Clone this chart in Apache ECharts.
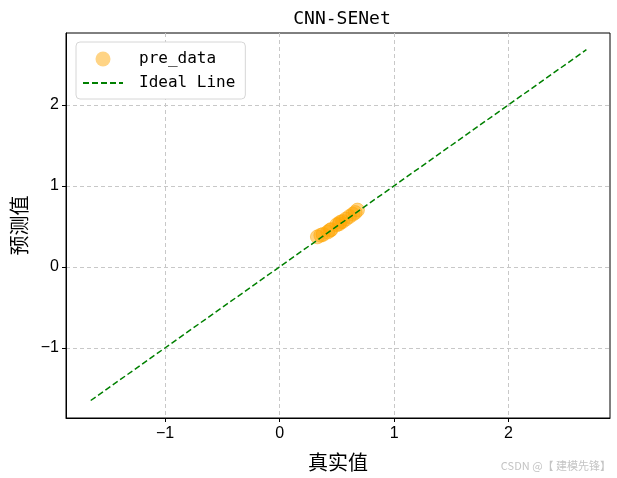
<!DOCTYPE html>
<html>
<head>
<meta charset="utf-8">
<script src="https://cdn.jsdelivr.net/npm/echarts@6/dist/echarts.min.js"></script>
<style>
    html, body { margin: 0; padding: 0; background: #fff; }
    #chart_div { width: 617px; height: 478px; }
</style>
</head>
<body>
<div id="chart_div"></div>
<script>
    // scatter values (true vs predicted)
    const realValues = [0.33, 0.36, 0.38, 0.42, 0.44, 0.45, 0.50, 0.52, 0.53, 0.55, 0.58, 0.61, 0.64, 0.66, 0.68];
    const predValues = [0.37, 0.39, 0.40, 0.43, 0.45, 0.46, 0.52, 0.53, 0.55, 0.56, 0.59, 0.62, 0.65, 0.67, 0.70];
    // ideal line end points
    const idealLine = [-1.65, 2.68];
    const xTicks = [-1, 0, 1, 2];
    const yTicks = [-1, 0, 1, 2];
    const axisMin = -1.866;
    const axisMax = 2.886;

    const fmt = (v) => String(v).replace('-', '\u2212');

    const chart = echarts.init(document.getElementById('chart_div'));

    const option = {
        animation: false,
        title: {
            text: 'CNN-SENet',
            left: 337,
            textAlign: 'center',
            top: 5,
            textStyle: {
                fontFamily: 'DejaVu Sans Mono',
                fontSize: 18,
                fontWeight: 'normal',
                color: '#000'
            }
        },
        legend: {
            orient: 'vertical',
            left: 76,
            top: 42,
            padding: [9, 10, 8, 6],
            itemGap: 8,
            itemWidth: 40,
            itemHeight: 15,
            backgroundColor: '#fff',
            borderColor: '#d6d6d6',
            borderWidth: 1,
            borderRadius: 4,
            textStyle: {
                fontFamily: 'DejaVu Sans Mono',
                fontSize: 16,
                color: '#000',
                padding: [0, 0, 0, 11]
            },
            data: [
                { name: 'pre_data', icon: 'circle', itemStyle: { color: 'rgba(255,165,0,0.6)', borderWidth: 0 } },
                { name: 'Ideal Line', itemStyle: { opacity: 0 } }
            ]
        },
        grid: {
            left: 66,
            right: 7,
            top: 33,
            bottom: 60,
            show: true,
            borderColor: '#000',
            borderWidth: 1
        },
        xAxis: {
            type: 'value',
            min: axisMin,
            max: axisMax,
            name: '真实值',
            nameLocation: 'middle',
            nameGap: 34,
            nameTextStyle: { fontFamily: 'Noto Sans CJK SC', fontSize: 20, color: '#000' },
            axisLine: { onZero: false, lineStyle: { color: '#000' } },
            axisTick: { customValues: xTicks, length: 4, lineStyle: { color: '#000' } },
            axisLabel: {
                customValues: xTicks,
                formatter: fmt,
                fontFamily: 'Liberation Sans',
                fontSize: 16,
                color: '#000',
                margin: 8
            },
            splitLine: { show: true, lineStyle: { color: '#c8c8c8', type: [4, 3] } }
        },
        yAxis: {
            type: 'value',
            min: axisMin,
            max: axisMax,
            name: '预测值',
            nameLocation: 'middle',
            nameGap: 36,
            nameTextStyle: { fontFamily: 'Noto Sans CJK SC', fontSize: 20, color: '#000' },
            axisLine: { show: true, onZero: false, lineStyle: { color: '#000' } },
            axisTick: { show: true, customValues: yTicks, length: 4, lineStyle: { color: '#000' } },
            axisLabel: {
                customValues: yTicks,
                formatter: fmt,
                fontFamily: 'Liberation Sans',
                fontSize: 16,
                color: '#000',
                margin: 7
            },
            splitLine: { show: true, lineStyle: { color: '#c8c8c8', type: [4, 3] } }
        },
        series: [
            {
                name: 'pre_data',
                type: 'scatter',
                symbolSize: 14,
                itemStyle: { color: 'rgba(255,165,0,0.6)', borderColor: 'rgba(255,165,0,0.6)', borderWidth: 1 },
                data: realValues.map((r, i) => [r, predValues[i]]),
                z: 3
            },
            {
                name: 'Ideal Line',
                type: 'line',
                symbol: 'none',
                lineStyle: { color: '#008000', width: 1.5, type: [6, 3] },
                itemStyle: { color: '#008000' },
                data: idealLine.map((v) => [v, v]),
                z: 4
            }
        ],
        graphic: [{
            type: 'text',
            right: 6,
            top: 460,
            style: {
                text: 'CSDN @\u3010 建模先锋\u3011',
                fontFamily: 'Noto Sans CJK SC',
                fontSize: 11,
                fill: '#c4c4c4'
            }
        }]
    };

    chart.setOption(option);
</script>
</body>
</html>
